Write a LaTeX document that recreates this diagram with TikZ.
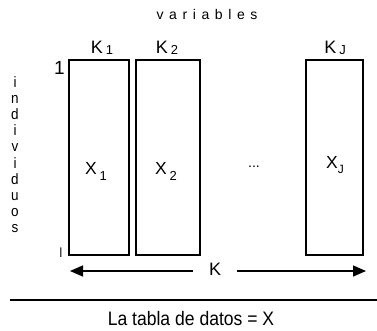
\documentclass[tikz,border=0pt]{standalone}
\usepackage{fontspec}
\setmainfont{Liberation Sans}
\usetikzlibrary{arrows.meta}
\begin{document}
\begin{tikzpicture}[x=1pt,y=-1pt,
  col/.style={draw,line width=1.4pt,minimum height=195pt,inner sep=0pt},
  lbl/.style={anchor=base,inner sep=0pt,font=\fontsize{18}{20}\selectfont},
  vl/.style={anchor=base,inner sep=0pt,font=\fontsize{15}{17}\selectfont,xscale=0.9},
  arr/.style={line width=1.4pt,-{Triangle[length=13pt,width=11pt]}}]
\useasboundingbox (0,0) rectangle (377,330);
% columns
\node[col,minimum width=60pt] (b1) at (99,157.5) {};
\node[col,minimum width=64pt] (b2) at (168,157.5) {};
\node[col,minimum width=57pt] (bj) at (334.5,157.5) {};
% top labels
\node[anchor=base,inner sep=0pt,font=\fontsize{14}{16}\selectfont] (var) at (207,19.5)
  {v\hspace{5.6pt}a\hspace{5.6pt}r\hspace{5.6pt}i\hspace{5.6pt}a\hspace{5.6pt}b\hspace{5.6pt}l\hspace{5.6pt}e\hspace{5.6pt}s};
\node[lbl] (k1) at (102,53) {K\,{\fontsize{13}{15}\selectfont\raisebox{-1.5pt}{1}}};
\node[lbl] (k2) at (167,53) {K\,{\fontsize{13}{15}\selectfont\raisebox{-1.5pt}{2}}};
\node[lbl] (kj) at (335,53) {K\,{\fontsize{13}{15}\selectfont\raisebox{-1.5pt}{J}}};
% row marks
\node[anchor=base,inner sep=0pt,font=\fontsize{19}{21}\selectfont] (one) at (59.5,74) {1};
\node[anchor=base,inner sep=0pt,font=\fontsize{14}{16}\selectfont,xscale=0.8] (last) at (61,257) {I};
% vertical individuos
\foreach \c [count=\i from 0] in {i,n,d,i,v,i,d,u,o,s}{
  \node[vl] (ind\i) at (15,{87+\i*16.2}) {\c};
}
% cell labels
\node[lbl,font=\fontsize{17.5}{19}\selectfont] (x1) at (96,174) {X\,{\fontsize{13}{14}\selectfont\raisebox{-6pt}{1}}};
\node[lbl,font=\fontsize{17.5}{19}\selectfont] (x2) at (166,174) {X\,{\fontsize{13}{14}\selectfont\raisebox{-6pt}{2}}};
\node[lbl,font=\fontsize{17.5}{19}\selectfont] (xj) at (335,168) {X{\fontsize{12}{13}\selectfont\raisebox{-5pt}{J}}};
\node[anchor=base,inner sep=0pt,font=\fontsize{14}{16}\selectfont] (dots) at (254,167) {...};
% K arrow
\node[anchor=base,inner ysep=0pt,inner xsep=16pt,font=\fontsize{18}{20}\selectfont] (K) at (215,275) {K};
\coordinate (kl) at (70,271);
\coordinate (kr) at (366,271);
\draw[arr] (K.west |- kl) -- (kl);
\draw[arr] (K.east |- kr) -- (kr);
% rule and caption
\coordinate (r1) at (10,300);
\coordinate (r2) at (377,300);
\draw[line width=1.4pt] (r1) -- (r2);
\node[anchor=base,inner sep=0pt,font=\fontsize{19.5}{22}\selectfont,xscale=0.9] (cap) at (191,325) {La tabla de datos = X};
\end{tikzpicture}
\end{document}
